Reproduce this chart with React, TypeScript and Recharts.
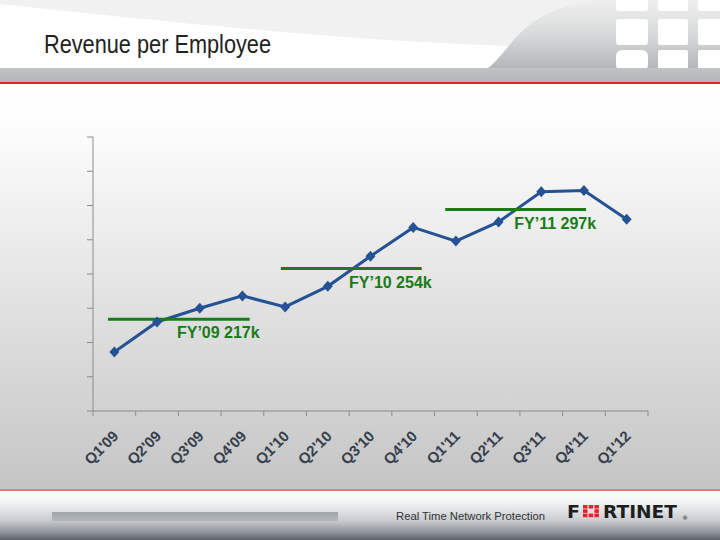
import { Line, LineChart, ReferenceLine, XAxis, YAxis } from "recharts";

const quarters = [
  "Q1'09", "Q2'09", "Q3'09", "Q4'09",
  "Q1'10", "Q2'10", "Q3'10", "Q4'10",
  "Q1'11", "Q2'11", "Q3'11", "Q4'11",
  "Q1'12",
];
// revenue per employee, $k (axis is unlabeled on the slide)
const revenue = [193, 215, 225, 234, 226, 241, 263, 284, 274, 288, 310, 311, 290];
const yTicks = [150, 175, 200, 225, 250, 275, 300, 325, 350];

const fyLabels = ["FY’09 217k", "FY’10 254k", "FY’11 297k"];
const fyAverages = [217, 254, 297];
const fyStart = [0.35, 4.4, 8.25];
const fyEnd = [3.67, 7.7, 11.55];

const data = quarters.map((q, i) => ({ x: i + 0.5, quarter: q, revenue: revenue[i] }));
const boundaryTicks = quarters.map((_, i) => i).concat(quarters.length);
const centerTicks = quarters.map((_, i) => i + 0.5);

const BLUE = "#245294";
const GREEN = "#187c18";
const AXIS = "#8c8c8c";
const FONT = "'Liberation Sans', Arial, sans-serif";

function Diamond(props: any) {
  const { cx, cy, index } = props;
  if (cx == null || cy == null) return <g key={index} />;
  return (
    <path
      key={index}
      d={`M${cx},${cy - 5.5}L${cx + 5},${cy}L${cx},${cy + 5.5}L${cx - 5},${cy}Z`}
      fill={BLUE}
    />
  );
}

const NoLabel = () => <g />;

function QuarterTick(props: any) {
  const { x, y, payload } = props;
  const tx = x + 5;
  const ty = y + 13;
  return (
    <text
      x={tx}
      y={ty}
      transform={`rotate(-45 ${tx} ${ty})`}
      textAnchor="end"
      fontFamily={FONT}
      fontWeight="bold"
      fontSize={15}
      fill="#34404c"
    >
      {quarters[Math.floor(payload.value)]}
    </text>
  );
}

const fyLabel = (text: string) => (props: any) => {
  const vb = props.viewBox;
  return (
    <text
      x={vb.x + vb.width + 10}
      y={vb.y + 19}
      textAnchor="end"
      fontFamily={FONT}
      fontWeight="bold"
      fontSize={16}
      fill={GREEN}
    >
      {text}
    </text>
  );
};

function Backdrop() {
  return (
    <svg width={720} height={540} style={{ position: "absolute", left: 0, top: 0 }}>
      <defs>
        <linearGradient id="body" x1="0" y1="0" x2="0" y2="1">
          <stop offset="0" stopColor="#ffffff" />
          <stop offset="0.1" stopColor="#fdfdfd" />
          <stop offset="1" stopColor="#c5c5c5" />
        </linearGradient>
        <linearGradient id="swoosh" x1="0" y1="0" x2="0" y2="1">
          <stop offset="0" stopColor="#efefef" />
          <stop offset="0.5" stopColor="#d9dadb" />
          <stop offset="1" stopColor="#b4b6b8" />
        </linearGradient>
        <linearGradient id="band" x1="0" y1="0" x2="0" y2="1">
          <stop offset="0" stopColor="#c2c3c5" />
          <stop offset="1" stopColor="#b3b4b6" />
        </linearGradient>
        <linearGradient id="foot" x1="0" y1="0" x2="0" y2="1">
          <stop offset="0" stopColor="#fcfcfc" />
          <stop offset="0.25" stopColor="#f1f2f3" />
          <stop offset="0.6" stopColor="#c9ccd0" />
          <stop offset="0.85" stopColor="#8f949a" />
          <stop offset="1" stopColor="#5c6168" />
        </linearGradient>
        <linearGradient id="footbar" x1="0" y1="0" x2="0" y2="1">
          <stop offset="0" stopColor="#a2a7ac" />
          <stop offset="1" stopColor="#b3b7bb" />
        </linearGradient>
      </defs>

      {/* header */}
      <rect x={0} y={0} width={720} height={84} fill="#ffffff" />
      <path d="M0,0 L0,4 C150,20 350,42 540,47 L620,40 L620,0 Z" fill="#f1f1f1" />
      <path d="M488,68 C505,55 515,30 545,15 C560,7 580,2 600,0 L720,0 L720,68 Z" fill="url(#swoosh)" />
      <g fill="#ffffff">
        <rect x={616} y={-6} width={32} height={17} rx={3} />
        <rect x={658} y={-6} width={30} height={17} rx={2} />
        <rect x={698} y={-6} width={30} height={17} rx={2} />
        <rect x={616} y={19} width={32} height={26} rx={3} />
        <rect x={658} y={19} width={30} height={26} rx={2} />
        <rect x={698} y={19} width={30} height={26} rx={2} />
        <rect x={616} y={50} width={32} height={21} rx={6} />
        <rect x={658} y={50} width={30} height={21} rx={2} />
        <rect x={698} y={50} width={30} height={21} rx={2} />
      </g>
      <rect x={0} y={68} width={720} height={14} fill="url(#band)" />
      <rect x={0} y={82} width={720} height={2} fill="#d12b2b" />
      <text
        x={44}
        y={53}
        fontFamily={FONT}
        fontSize={25}
        fill="#222222"
        textLength={227}
        lengthAdjust="spacingAndGlyphs"
      >
        Revenue per Employee
      </text>

      {/* body */}
      <rect x={0} y={84} width={720} height={405} fill="url(#body)" />

      {/* footer */}
      <rect x={0} y={489} width={720} height={3} fill="#e57878" />
      <rect x={0} y={491} width={720} height={49} fill="url(#foot)" />
      <rect x={52} y={512} width={286} height={9} fill="url(#footbar)" />
      <text
        x={396}
        y={520}
        fontFamily={FONT}
        fontSize={11}
        fill="#333333"
        textLength={149}
        lengthAdjust="spacingAndGlyphs"
      >
        Real Time Network Protection
      </text>
      <g fontFamily="'DejaVu Sans', sans-serif" fontWeight="bold" fontSize={17} fill="#1e1e1e">
        <text x={567} y={517.5} textLength={13} lengthAdjust="spacingAndGlyphs">F</text>
        <text x={603} y={517.5} textLength={74} lengthAdjust="spacingAndGlyphs">RTINET</text>
        <text x={682} y={520} fontSize={6} fontWeight="normal">®</text>
      </g>
      <g fill="#d7282a">
        <rect x={583} y={505} width={4.5} height={3.6} />
        <rect x={588.7} y={505} width={4.5} height={3.6} />
        <rect x={594.4} y={505} width={4.5} height={3.6} />
        <rect x={583} y={509.3} width={4.5} height={3.6} />
        <rect x={594.4} y={509.3} width={4.5} height={3.6} />
        <rect x={583} y={513.6} width={4.5} height={3.6} />
        <rect x={588.7} y={513.6} width={4.5} height={3.6} />
        <rect x={594.4} y={513.6} width={4.5} height={3.6} />
      </g>
    </svg>
  );
}

export default function App() {
  return (
    <div style={{ position: "absolute", left: 0, top: 0, width: 720, height: 540, overflow: "hidden" }}>
      <Backdrop />
      <div style={{ position: "absolute", left: 0, top: 0 }}>
        <LineChart
          width={720}
          height={540}
          data={data}
          margin={{ top: 137, right: 72, bottom: 64, left: 87 }}
        >
          <XAxis
            xAxisId="grid"
            type="number"
            dataKey="x"
            domain={[0, quarters.length]}
            ticks={boundaryTicks}
            tick={NoLabel}
            tickSize={5}
            height={5}
            interval={0}
            axisLine={{ stroke: AXIS }}
            tickLine={{ stroke: AXIS }}
          />
          <XAxis
            xAxisId="labels"
            type="number"
            dataKey="x"
            domain={[0, quarters.length]}
            ticks={centerTicks}
            axisLine={false}
            tickLine={false}
            tick={<QuarterTick />}
            height={60}
            interval={0}
          />
          <YAxis
            type="number"
            domain={[yTicks[0], yTicks[yTicks.length - 1]]}
            ticks={yTicks}
            tick={NoLabel}
            tickSize={6}
            width={6}
            interval={0}
            axisLine={{ stroke: AXIS }}
            tickLine={{ stroke: AXIS }}
          />
          <Line
            xAxisId="grid"
            type="linear"
            dataKey="revenue"
            stroke={BLUE}
            strokeWidth={3}
            dot={Diamond}
            activeDot={false}
            isAnimationActive={false}
          />
          {fyAverages.map((v, i) => (
            <ReferenceLine
              key={fyLabels[i]}
              xAxisId="grid"
              segment={[
                { x: fyStart[i], y: v },
                { x: fyEnd[i], y: v },
              ]}
              stroke={GREEN}
              strokeWidth={3}
              label={fyLabel(fyLabels[i])}
            />
          ))}
        </LineChart>
      </div>
    </div>
  );
}
